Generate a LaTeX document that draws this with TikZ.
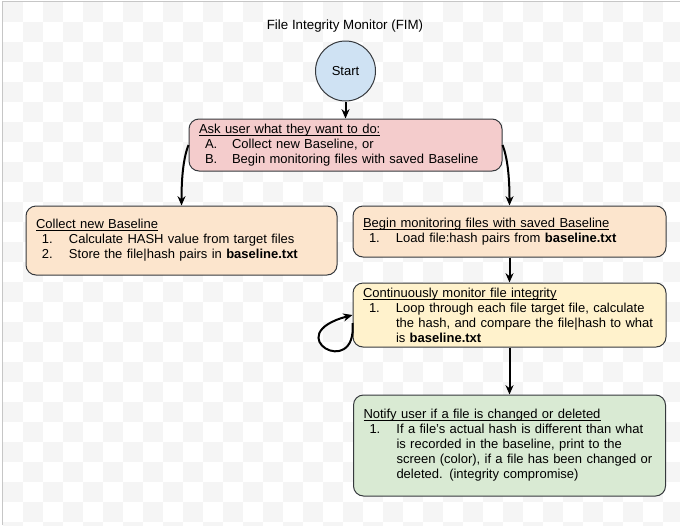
\documentclass[tikz,border=0pt]{standalone}
\usepackage{fontspec}
\setmainfont{Liberation Sans}
\usetikzlibrary{arrows.meta}

\definecolor{startblue}{RGB}{207,226,243}
\definecolor{askpink}{RGB}{244,204,204}
\definecolor{peach}{RGB}{252,229,205}
\definecolor{cream}{RGB}{255,242,204}
\definecolor{mint}{RGB}{217,234,211}
\definecolor{edgegray}{RGB}{54,57,61}
\definecolor{checker}{RGB}{245,245,245}

\newcommand{\numline}[2]{\hspace*{4.5pt}\makebox[20.25pt][l]{#1}#2}
\newcommand{\moreline}[1]{\hspace*{24.75pt}#1}

\begin{document}
\begin{tikzpicture}[x=0.75pt,y=-0.75pt,
  every node/.style={font=\fontsize{9.75pt}{11.25pt}\selectfont},
  box/.style={draw=edgegray,line width=0.75pt,rounded corners=7.5pt,
    align=left,inner xsep=7.5pt,inner ysep=0pt},
  flow/.style={line width=1.5pt,-{Stealth[length=7pt,width=6pt]}}]
  \useasboundingbox (0,0) rectangle (680,525);
  % checkered background
  \begin{scope}
    \clip (0,0) rectangle (680,525);
    \foreach \i in {0,2,...,32}
      \foreach \j in {0,2,...,26}{
        \fill[checker] (3+20*\i,2+20*\j) rectangle +(20,20);
        \fill[checker] (23+20*\i,22+20*\j) rectangle +(20,20);
      }
  \end{scope}
  \draw[gray!45,line width=0.75pt] (2.5,525) -- (2.5,1) -- (680,1);

  \node[font=\fontsize{10pt}{12pt}\selectfont] (title) at (345,26) {File Integrity Monitor (FIM)};
  \node[circle,draw=edgegray,fill=startblue,line width=0.75pt,
    minimum size=45pt,inner sep=0pt] (start) at (345.5,71) {Start};
  \node[box,fill=askpink,text width=219.75pt,minimum height=39pt] (ask)
    at (345.5,145) {\underbar{Ask user what they want to do:}\\
    \numline{A.}{Collect new Baseline, or}\\
    \numline{B.}{Begin monitoring files with saved Baseline}};
  \node[box,fill=peach,text width=218.25pt,minimum height=51.75pt] (collect)
    at (181.5,240.5) {\underbar{Collect new Baseline}\\
    \numline{1.}{Calculate HASH value from target files}\\
    \numline{2.}{Store the file|hash pairs in \textbf{baseline.txt}}};
  \node[box,fill=peach,text width=219.75pt,minimum height=38.25pt] (begin)
    at (509.5,231.5) {\underbar{Begin monitoring files with saved Baseline}\\
    \numline{1.}{Load file:hash pairs from \textbf{baseline.txt}}};
  \node[box,fill=cream,text width=219.75pt,minimum height=48pt] (mon)
    at (509.5,315) {\underbar{Continuously monitor file integrity}\\
    \numline{1.}{Loop through each file target file, calculate}\\
    \moreline{the hash, and compare the file|hash to what}\\
    \moreline{is \textbf{baseline.txt}}};
  \node[box,fill=mint,text width=219pt,minimum height=75.75pt] (notify)
    at (509.5,445.5) {\underbar{Notify user if a file is changed or deleted}\\
    \numline{1.}{If a file's actual hash is different than what}\\
    \moreline{is recorded in the baseline, print to the}\\
    \moreline{screen (color), if a file has been changed or}\\
    \moreline{deleted. (integrity compromise)}};

  \draw[flow] (start) -- (ask);
  \draw[flow] (ask.west) .. controls +(-6,15) and +(0,-22) .. (collect.north);
  \draw[flow] (ask.east) .. controls +(6,15) and +(0,-22) .. (begin.north);
  \draw[flow] (begin) -- (mon);
  \draw[flow] (mon) -- (notify);
  \draw[flow] ([yshift=-6pt]mon.west) .. controls +(5,58) and +(-75,20) .. (mon.west);
\end{tikzpicture}
\end{document}
